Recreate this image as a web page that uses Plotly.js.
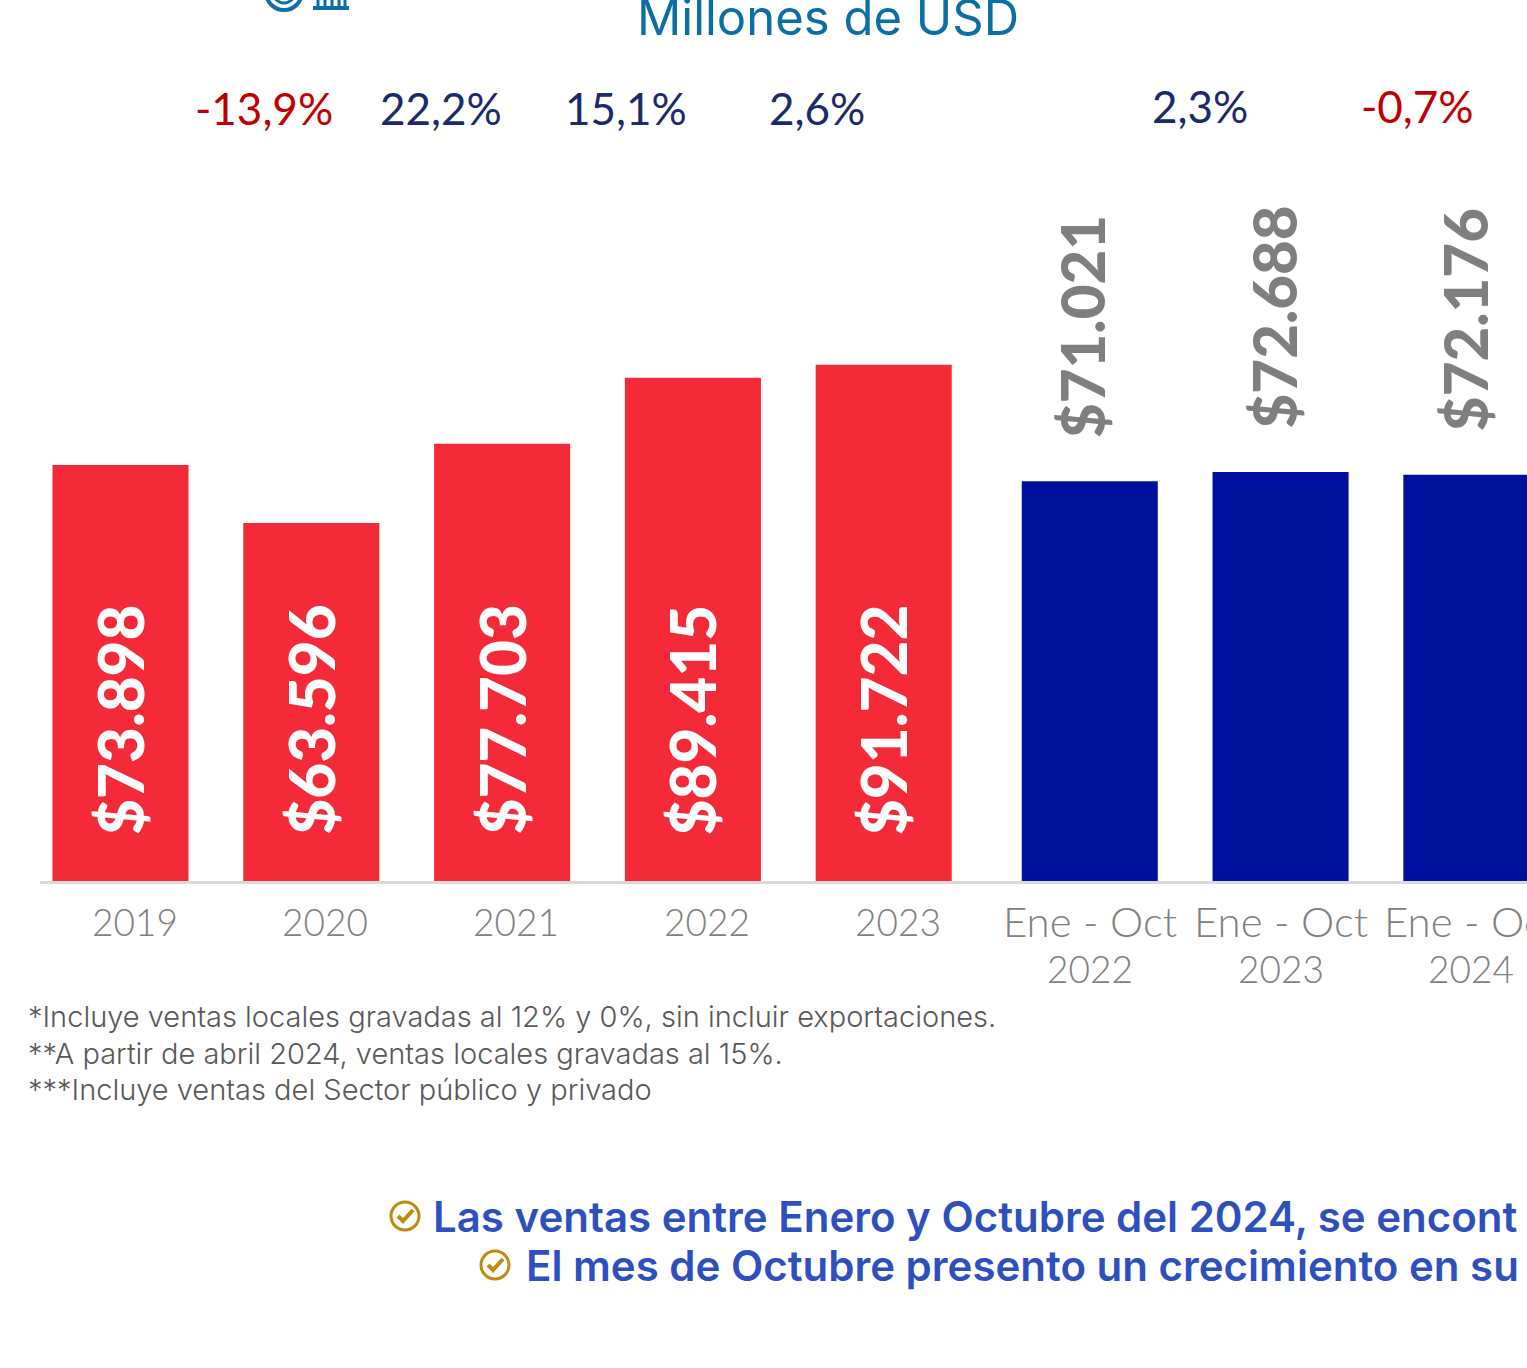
<!DOCTYPE html>
<html><head><meta charset="utf-8">
<script src="https://cdn.plot.ly/plotly-3.0.1.min.js"></script>
<style>html,body{margin:0;padding:0;background:#fff;overflow:hidden}</style>
</head><body><div id="c" style="width:1527px;height:1368px"></div>
<script>
const years = ['2019','2020','2021','2022','2023'];
const yearValues = [73898,63596,77703,89415,91722];
const periodNames = ['Ene - Oct','Ene - Oct','Ene - Oct'];
const periodYears = ['2022','2023','2024'];
const periodValues = [71021,72688,72176];
const yearLabels = ['$73.898','$63.596','$77.703','$89.415','$91.722'];
const periodLabels = ['$71.021','$72.688','$72.176'];
const yearSlots = [0,1,2,3,4];
const periodSlots = [5.08,6.08,7.08];
const changes = ['-13,9%','22,2%','15,1%','2,6%','2,3%','-0,7%'];
const notes = ['*Incluye ventas locales gravadas al 12% y 0%, sin incluir exportaciones.','**A partir de abril 2024, ventas locales gravadas al 15%.','***Incluye ventas del Sector público y privado'];
const bullets = ['Las ventas entre Enero y Octubre del 2024, se encont','El mes de Octubre presento un crecimiento en su'];

const W=1527,H=1368,L=40,BASE=881;
const px=x=>(x-L)/(W-L), py=y=>(BASE-y)/BASE;
const face='Lato, "Open Sans", sans-serif';
const wide='Inter, "Open Sans", sans-serif';
const ann=[];
const txt=(t,x,y,font,extra)=>ann.push(Object.assign({text:t,xref:'paper',yref:'paper',x:px(x),y:py(y),showarrow:false,xanchor:'center',yanchor:'middle',font:font},extra||{}));

txt('Millones de USD',828,17,{family:wide,size:49,color:'#0b6ea6',weight:400});
const changeX=[264,441,626,817,1200,1417],changeY=[108,108,108,108,106,106];
changes.forEach((c,i)=>txt(c,changeX[i],changeY[i],{family:face,size:44,weight:400,color:c[0]==='-'?'#c00000':'#1b2a6b'}));

yearLabels.forEach((t,i)=>ann.push({text:t,xref:'x',yref:'y',x:yearSlots[i],y:28700,xshift:0,showarrow:false,textangle:-90,xanchor:'center',yanchor:'middle',font:{family:face,size:62,weight:900,color:'#ffffff'}}));
periodLabels.forEach((t,i)=>ann.push({text:t,xref:'x',yref:'y',x:periodSlots[i],y:periodValues[i],yshift:155,xshift:-7,showarrow:false,textangle:-90,xanchor:'center',yanchor:'middle',font:{family:face,size:60,weight:900,color:'#7f7f7f'}}));

years.forEach((t,i)=>ann.push({text:t,xref:'x',yref:'paper',x:yearSlots[i],y:py(921),xshift:14,showarrow:false,xanchor:'center',yanchor:'middle',font:{family:face,size:37,weight:300,color:'#808080'}}));
periodNames.forEach((t,i)=>ann.push({text:t,xref:'x',yref:'paper',x:periodSlots[i],y:py(921),showarrow:false,xanchor:'center',yanchor:'middle',font:{family:face,size:42,weight:300,color:'#808080'}}));
periodYears.forEach((t,i)=>ann.push({text:t,xref:'x',yref:'paper',x:periodSlots[i],y:py(968),showarrow:false,xanchor:'center',yanchor:'middle',font:{family:face,size:37,weight:300,color:'#808080'}}));

const noteY=[1016,1053,1089];
notes.forEach((t,i)=>txt(t,26,noteY[i],{family:wide,size:29,weight:300,color:'#595959'},{xanchor:'left'}));
const bulletX=[431,524],bulletY=[1216,1265];
bullets.forEach((t,i)=>txt(t,bulletX[i],bulletY[i],{family:wide,size:42,weight:600,color:'#2e50bf'},{xanchor:'left'}));

const shapes=[];
const paper=(o)=>Object.assign({xref:'paper',yref:'paper'},o);
const gold='#c08a0c';
[[405,1216],[495,1265]].forEach(([cx,cy])=>{
  shapes.push(paper({type:'circle',x0:px(cx-14),x1:px(cx+14),y0:py(cy+14),y1:py(cy-14),line:{color:gold,width:3}}));
  shapes.push(paper({type:'path',path:`M ${px(cx-7)} ${py(cy)} L ${px(cx-2)} ${py(cy+5)} L ${px(cx+8)} ${py(cy-6)}`,line:{color:gold,width:4}}));
});
const blue='#0b6ea6';
shapes.push(paper({type:'circle',x0:px(266),x1:px(302),y0:py(10),y1:py(-26),line:{color:blue,width:4}}));
shapes.push(paper({type:'circle',x0:px(273),x1:px(295),y0:py(3),y1:py(-19),line:{color:blue,width:3}}));
shapes.push(paper({type:'rect',x0:px(313),x1:px(349),y0:py(10),y1:py(6),fillcolor:blue,line:{width:0}}));
[318,325,332,339,345].forEach(x=>shapes.push(paper({type:'rect',x0:px(x-1.5),x1:px(x+1.5),y0:py(7),y1:py(0),fillcolor:blue,line:{width:0}})));

const bars=(x,y,color,name)=>({type:'bar',x:x,y:y,name:name,width:0.713,marker:{color:color,line:{width:0}},hoverinfo:'y',cliponaxis:true});
Plotly.newPlot('c',[bars(yearSlots,yearValues,'#f42a38','Anual'),bars(periodSlots,periodValues,'#00109e','Ene - Oct')],{
  width:W,height:H,margin:{l:L,r:0,t:0,b:H-BASE,pad:0},paper_bgcolor:'#fff',plot_bgcolor:'#fff',showlegend:false,barmode:'overlay',
  xaxis:{range:[(L-120.5)/190.8,(W-120.5)/190.8],showgrid:false,zeroline:false,showticklabels:false,ticks:'',showline:true,linecolor:'#d9d9d9',linewidth:3},
  yaxis:{range:[0,BASE/5.628*1000],showgrid:false,zeroline:false,showticklabels:false,ticks:'',showline:false},
  annotations:ann,shapes:shapes
},{displayModeBar:false,responsive:false});
</script></body></html>
